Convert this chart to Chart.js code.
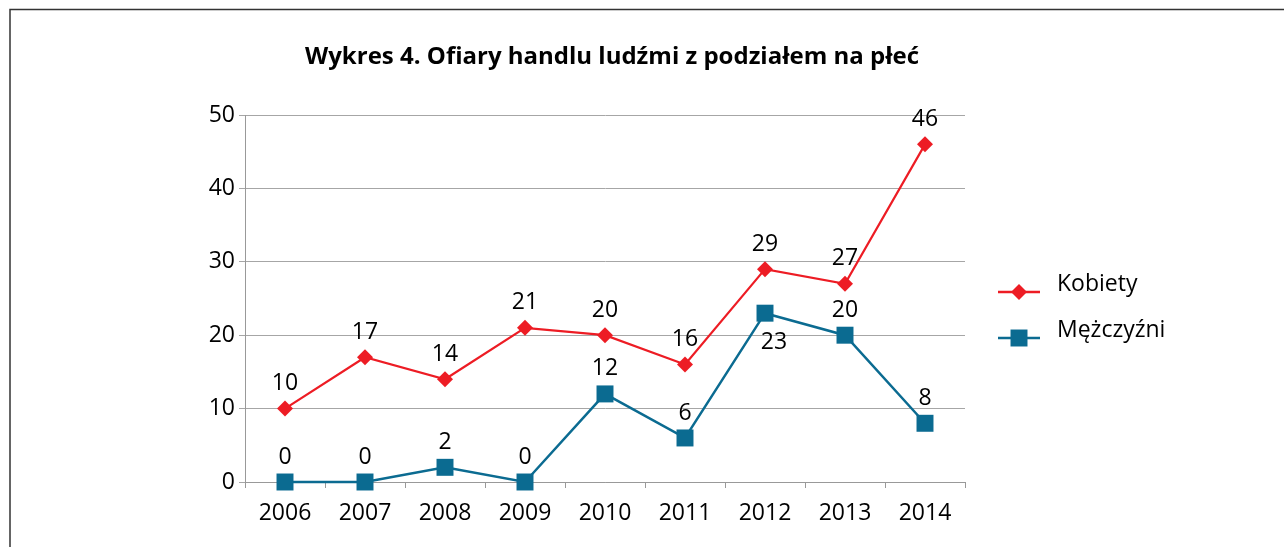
<!DOCTYPE html>
<html>
<head>
<meta charset="utf-8">
<script src="https://cdn.jsdelivr.net/npm/chart.js@4"></script>
<style>
html,body{margin:0;padding:0;background:#fff;}
#wrap{position:relative;width:1284px;height:547px;}
</style>
</head>
<body>
<div id="wrap"><canvas id="c" width="1284" height="547"></canvas></div>
<script>
const chartTitle = 'Wykres 4. Ofiary handlu ludźmi z podziałem na płeć';
const years = ['2006','2007','2008','2009','2010','2011','2012','2013','2014'];
const kobiety = [10, 17, 14, 21, 20, 16, 29, 27, 46];
const mezczyzni = [0, 0, 2, 0, 12, 6, 23, 20, 8];
const seriesNames = ['Kobiety', 'Mężczyźni'];
const yTicks = [0, 10, 20, 30, 40, 50];

const FONT = '"Open Sans", "Noto Sans", sans-serif';
const RED = '#ed1c24';
const BLUE = '#0b6b91';

const decor = {
  id: 'decor',
  beforeDraw(chart) {
    const ctx = chart.ctx;
    ctx.save();
    ctx.strokeStyle = '#333';
    ctx.lineWidth = 1.5;
    ctx.beginPath();
    ctx.moveTo(10, 560); ctx.lineTo(10, 9.5); ctx.lineTo(1290, 9.5);
    ctx.stroke();
    ctx.fillStyle = '#000';
    ctx.font = 'bold 24px ' + FONT;
    ctx.textAlign = 'center';
    ctx.textBaseline = 'middle';
    ctx.fillText(chartTitle, 612, 57);
    ctx.restore();
  },
  afterDatasetsDraw(chart) {
    const ctx = chart.ctx;
    ctx.save();
    ctx.font = '23px ' + FONT;
    ctx.fillStyle = '#000';
    ctx.textAlign = 'center';
    ctx.textBaseline = 'middle';
    chart.data.datasets.forEach((ds, di) => {
      const meta = chart.getDatasetMeta(di);
      meta.data.forEach((pt, i) => {
        const v = ds.data[i];
        let dy = -25;
        let dx = 0;
        if (di === 1 && i === 6) { dy = 29; dx = 9; }
        ctx.fillText(String(v), pt.x + dx, pt.y + dy);
      });
    });
    // legend
    const items = [
      {name: seriesNames[0], color: RED, style: 'rectRot', r: 8, y: 284},
      {name: seriesNames[1], color: BLUE, style: 'rect', r: 12, y: 330}
    ];
    items.forEach(it => {
      ctx.strokeStyle = it.color;
      ctx.lineWidth = 2.5;
      ctx.beginPath();
      ctx.moveTo(998, it.y + 8); ctx.lineTo(1040, it.y + 8);
      ctx.stroke();
      ctx.fillStyle = it.color;
      Chart.helpers.drawPoint(ctx, {pointStyle: it.style, radius: it.r, borderWidth: 0}, 1019, it.y + 8);
      ctx.fillStyle = '#000';
      ctx.textAlign = 'left';
      ctx.fillText(it.name, 1057, it.y);
    });
    ctx.restore();
  }
};

new Chart(document.getElementById('c'), {
  type: 'line',
  data: {
    labels: years,
    datasets: [
      {label: seriesNames[0], data: kobiety, borderColor: RED, backgroundColor: RED,
       borderWidth: 2.2, pointStyle: 'rectRot', pointRadius: 8, pointBorderWidth: 0, tension: 0, clip: false},
      {label: seriesNames[1], data: mezczyzni, borderColor: BLUE, backgroundColor: BLUE,
       borderWidth: 2.5, pointStyle: 'rect', pointRadius: 12, pointBorderWidth: 0, tension: 0, clip: false}
    ]
  },
  options: {
    responsive: false,
    animation: false,
    layout: {padding: {top: 115, right: 319, left: 0, bottom: 0}},
    plugins: {legend: {display: false}, title: {display: false}, tooltip: {enabled: false}},
    scales: {
      x: {
        offset: true,
        grid: {display: true, drawOnChartArea: false, offset: true, tickLength: 6, color: '#999'},
        border: {color: '#999', width: 1},
        ticks: {color: '#000', font: {family: FONT, size: 23}, padding: 12},
        afterFit(s) { s.height = 65; }
      },
      y: {
        min: 0, max: 50,
        afterBuildTicks(s) { s.ticks = yTicks.map(v => ({value: v})); },
        grid: {color: '#a6a6a6', tickLength: 6, lineWidth: 1},
        border: {color: '#999', width: 1},
        ticks: {color: '#000', font: {family: FONT, size: 23}, padding: 4},
        afterFit(s) { s.width = 245; }
      }
    }
  },
  plugins: [decor]
});
</script>
</body>
</html>
